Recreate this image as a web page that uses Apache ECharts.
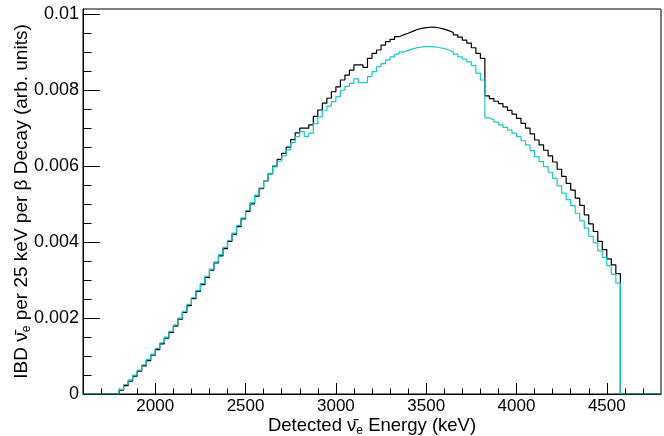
<!DOCTYPE html>
<html>
<head>
<meta charset="utf-8">
<script src="https://cdn.jsdelivr.net/npm/echarts@6/dist/echarts.min.js"></script>
<style>
html,body{margin:0;padding:0;background:#fff;}
#chart{width:664px;height:436px;}
</style>
</head>
<body>
<div id="chart"></div>
<script>
// Histogram binning (keV)
const xMin = 1600;
const xMax = 4800;
const firstEdge = 1800;
const binWidth = 25;

// Black histogram, bins from 1800 keV in 25 keV steps
const blackValues = [
  0.00010,0.00022,0.00034,0.00047,0.00060,0.00074,0.00088,0.00102,0.00117,0.00132,
  0.00147,0.00162,0.00179,0.00197,0.00215,0.00233,0.00251,0.00270,0.00288,0.00307,
  0.00326,0.00345,0.00364,0.00383,0.00402,0.00421,0.00441,0.00461,0.00481,0.00501,
  0.00521,0.00541,0.00561,0.00580,0.00600,0.00618,0.00634,0.00650,0.00670,0.00688,
  0.00700,0.00700,0.00709,0.00731,0.00748,0.00766,0.00779,0.00796,0.00809,0.00827,
  0.00840,0.00853,0.00867,0.00867,0.00860,0.00884,0.00897,0.00906,0.00919,0.00928,
  0.00934,0.00941,0.00946,0.00950,0.00955,0.00960,0.00963,0.00965,0.00966,0.00966,
  0.00964,0.00961,0.00957,0.00952,0.00946,0.00940,0.00932,0.00924,0.00912,0.00897,
  0.00884,0.00785,0.00778,0.00771,0.00765,0.00756,0.00747,0.00737,0.00726,0.00713,
  0.00700,0.00685,0.00669,0.00656,0.00642,0.00627,0.00611,0.00592,0.00573,0.00555,
  0.00537,0.00516,0.00497,0.00472,0.00448,0.00428,0.00402,0.00380,0.00356,0.00340,
  0.00317
];

// Cyan histogram, same binning
const cyanValues = [
  0.00012,0.00025,0.00037,0.00050,0.00063,0.00077,0.00091,0.00105,0.00120,0.00135,
  0.00150,0.00165,0.00182,0.00200,0.00218,0.00236,0.00254,0.00273,0.00291,0.00310,
  0.00329,0.00348,0.00367,0.00386,0.00405,0.00424,0.00444,0.00464,0.00484,0.00504,
  0.00524,0.00543,0.00562,0.00580,0.00598,0.00613,0.00627,0.00643,0.00662,0.00678,
  0.00691,0.00678,0.00687,0.00712,0.00730,0.00746,0.00758,0.00770,0.00783,0.00800,
  0.00810,0.00818,0.00830,0.00820,0.00820,0.00836,0.00849,0.00862,0.00870,0.00880,
  0.00888,0.00895,0.00901,0.00905,0.00909,0.00912,0.00914,0.00915,0.00915,0.00914,
  0.00912,0.00910,0.00906,0.00901,0.00895,0.00888,0.00882,0.00875,0.00865,0.00845,
  0.00827,0.00727,0.00722,0.00716,0.00709,0.00702,0.00695,0.00687,0.00678,0.00667,
  0.00656,0.00641,0.00625,0.00612,0.00599,0.00584,0.00568,0.00548,0.00529,0.00512,
  0.00496,0.00476,0.00456,0.00437,0.00415,0.00398,0.00377,0.00360,0.00338,0.00315,
  0.00292
];

// Tick labels
const xMajorTicks = [2000, 2500, 3000, 3500, 4000, 4500];
const xMinorTicks = [1700,1800,1900,2100,2200,2300,2400,2600,2700,2800,2900,3100,3200,3300,3400,3600,3700,3800,3900,4100,4200,4300,4400,4600,4700];
const yMajorTicks = [0, 0.002, 0.004, 0.006, 0.008, 0.01];
const yMinorTicks = [0.0005,0.001,0.0015,0.0025,0.003,0.0035,0.0045,0.005,0.0055,0.0065,0.007,0.0075,0.0085,0.009,0.0095];
const yMax = 0.01014;

function histData(vals) {
  const d = [];
  for (let e = xMin; e < firstEdge; e += binWidth) d.push([e, 0]);
  vals.forEach((v, i) => d.push([firstEdge + i * binWidth, v]));
  for (let e = firstEdge + vals.length * binWidth; e < xMax; e += binWidth) d.push([e, 0]);
  d.push([xMax, 0]);
  return d;
}

const FONT = '"Liberation Sans", Arial, Helvetica, sans-serif';
const gridRect = {left: 83, right: 3, top: 9, bottom: 42, outerBoundsMode: 'none', containLabel: false};
const chart = echarts.init(document.getElementById('chart'), null, {renderer: 'canvas'});
chart.setOption({
  animation: false,
  backgroundColor: '#fff',
  textStyle: {fontFamily: FONT},
  grid: [
    Object.assign({show: true, borderColor: '#000', borderWidth: 1}, gridRect),
    Object.assign({show: false}, gridRect)
  ],
  xAxis: [
    {
      type: 'value', gridIndex: 0, min: xMin, max: xMax, position: 'bottom',
      axisLine: {show: true, lineStyle: {color: '#000', width: 1}},
      axisTick: {show: true, inside: true, length: 11, customValues: xMajorTicks, lineStyle: {color: '#000'}},
      axisLabel: {show: true, customValues: xMajorTicks, fontSize: 17, color: '#000', margin: 4, fontFamily: FONT,
        formatter: v => String(v)},
      splitLine: {show: false},
      name: 'Detected \u03BD\u0304{sub|e} Energy (keV)',
      nameLocation: 'middle', nameGap: 20, nameMoveOverlap: false,
      nameTextStyle: {fontSize: 18.5, color: '#000', fontFamily: FONT,
        rich: {sub: {fontSize: 12, color: '#000', fontFamily: FONT, padding: [11, 0, 0, 0]}}}
    },
    {
      type: 'value', gridIndex: 1, min: xMin, max: xMax, position: 'bottom',
      axisLine: {show: false},
      axisTick: {show: true, inside: true, length: 5.5, customValues: xMinorTicks, lineStyle: {color: '#000'}},
      axisLabel: {show: false},
      splitLine: {show: false}
    }
  ],
  yAxis: [
    {
      type: 'value', gridIndex: 0, min: 0, max: yMax, position: 'left',
      axisLine: {show: true, lineStyle: {color: '#000', width: 1}},
      axisTick: {show: true, inside: true, length: 17, customValues: yMajorTicks, lineStyle: {color: '#000'}},
      axisLabel: {show: true, customValues: yMajorTicks, fontSize: 18, color: '#000', margin: 4, fontFamily: FONT,
        formatter: v => String(+Number(v).toFixed(4))},
      splitLine: {show: false},
      name: 'IBD \u03BD\u0304{sub|e} per 25 keV per \u03B2 Decay (arb. units)',
      nameLocation: 'middle', nameGap: 50, nameRotate: 90, nameMoveOverlap: false,
      nameTextStyle: {fontSize: 19, color: '#000', fontFamily: FONT,
        rich: {sub: {fontSize: 12, color: '#000', fontFamily: FONT, padding: [11, 0, 0, 0]}}}
    },
    {
      type: 'value', gridIndex: 1, min: 0, max: yMax, position: 'left',
      axisLine: {show: false},
      axisTick: {show: true, inside: true, length: 8.5, customValues: yMinorTicks, lineStyle: {color: '#000'}},
      axisLabel: {show: false},
      splitLine: {show: false}
    }
  ],
  series: [
    {
      type: 'line', step: 'end', xAxisIndex: 0, yAxisIndex: 0,
      data: histData(blackValues), showSymbol: false, symbol: 'none',
      lineStyle: {color: '#000', width: 1.2}, z: 2
    },
    {
      type: 'line', step: 'end', xAxisIndex: 0, yAxisIndex: 0,
      data: histData(cyanValues), showSymbol: false, symbol: 'none',
      lineStyle: {color: '#19c8c8', width: 1.2}, z: 3
    }
  ]
});
</script>
</body>
</html>
